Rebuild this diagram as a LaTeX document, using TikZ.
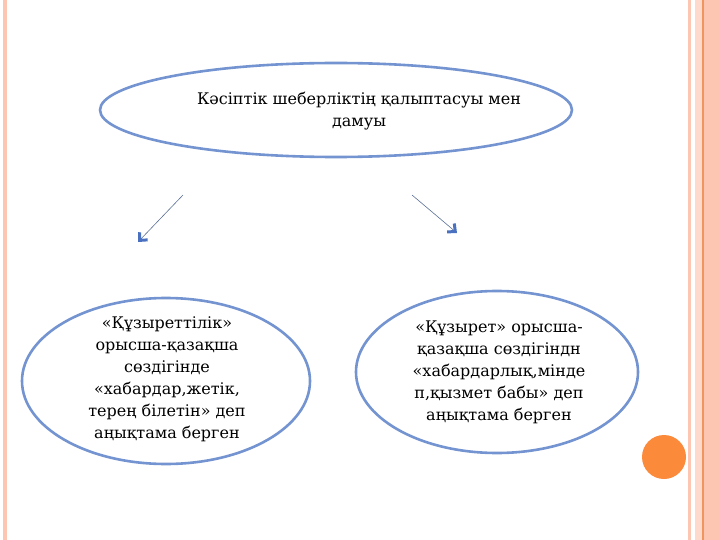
\documentclass[tikz,border=0pt]{standalone}
\usepackage{fontspec}
\setmainfont{DejaVu Serif}
\usetikzlibrary{shapes.geometric,arrows.meta}
\definecolor{ovalblue}{HTML}{7394D0}
\definecolor{tipblue}{HTML}{4A70C0}
\definecolor{linegrey}{HTML}{5A6F95}
\definecolor{stripe}{HTML}{FCC6B2}
\definecolor{stripelight}{HTML}{FDDACC}
\definecolor{stripedark}{HTML}{F0955E}
\definecolor{dotorange}{HTML}{FB8A3A}
\tikzset{
  oval/.style={draw=ovalblue, line width=2.6pt, ellipse, inner sep=0pt},
  txt/.style={align=center, inner sep=0pt, font=\fontsize{16}{22}\selectfont},
  link/.style={draw=linegrey, line width=0.6pt,
    -{Straight Barb[length=6pt,width=11pt,line width=3pt,color=tipblue]}}
}
\begin{document}
\begin{tikzpicture}[x=1pt,y=-1pt]
\useasboundingbox (0,0) rectangle (720,540);
% side stripes
\fill[stripe] (3,0) rectangle (7,540);
\fill[stripe] (688,0) rectangle (691,540);
\fill[stripelight] (695,0) rectangle (702,540);
\fill[stripedark] (702,0) rectangle (703.5,540);
\fill[stripe] (703.5,0) rectangle (720,540);
\fill[dotorange] (664,457) circle (22pt);
% ovals
\node[oval, minimum width=472pt, minimum height=94pt] (v0) at (336,110) {};
\node[oval, minimum width=288pt, minimum height=166pt] (v1) at (166,381) {};
\node[oval, minimum width=282pt, minimum height=162pt] (v2) at (497,372) {};
% texts
\node[txt] (t0) at (359,111) {Кәсіптік шеберліктің қалыптасуы мен\\дамуы};
\node[txt] (t1) at (167,379) {«Құзыреттілік»\\орысша-қазақша\\сөздігінде\\«хабардар,жетік,\\терең білетін» деп\\аңықтама берген};
\node[txt] (t2) at (499,372) {«Құзырет» орысша-\\қазақша сөздігіндн\\«хабардарлық,мінде\\п,қызмет бабы» деп\\аңықтама берген};
% arrows
\coordinate (a0) at (183,195);
\coordinate (b0) at (138,242);
\coordinate (a1) at (412,195);
\coordinate (b1) at (457,233);
\draw[link] (a0) -- (b0);
\draw[link] (a1) -- (b1);
\end{tikzpicture}
\end{document}
